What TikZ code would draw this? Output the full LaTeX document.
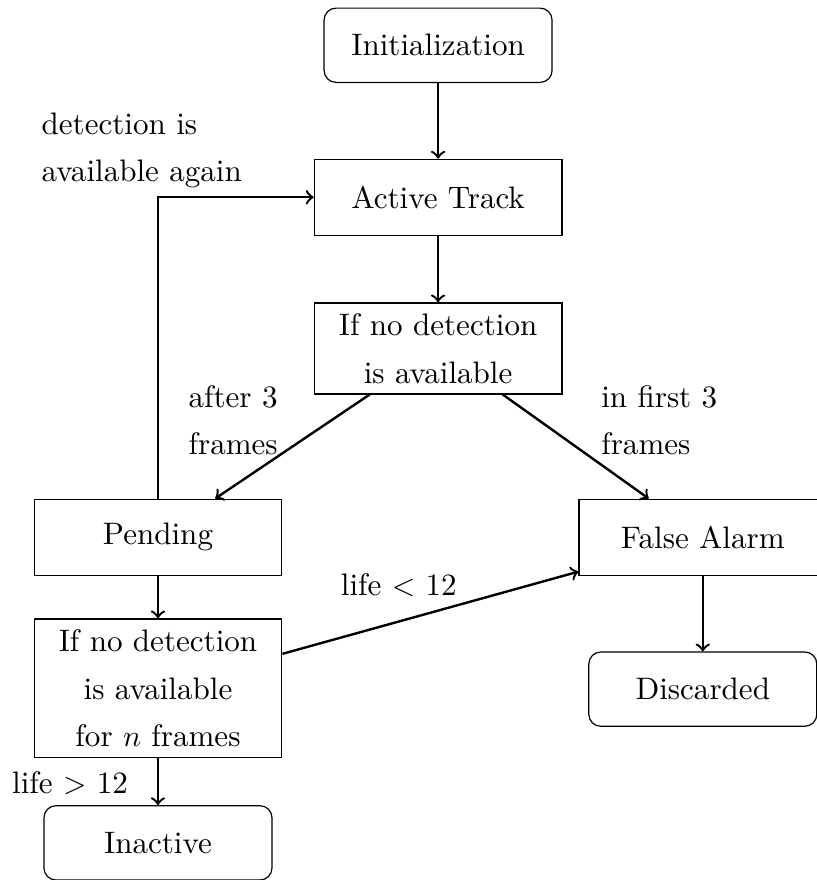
\documentclass[tikz,border=0pt]{standalone}
\usepackage{tikz}
\usetikzlibrary{arrows}

\begin{document}
\begin{tikzpicture}
  \tikzstyle{state}=[draw,rectangle,align=center,minimum width=2.9cm,minimum height=0.89cm,inner sep=3.5pt,font=\fontsize{10.35}{15.9}\selectfont]
  \tikzstyle{terminal}=[state,rounded corners,minimum width=2.67cm,minimum height=0.87cm]
  \tikzstyle{note}=[align=left,inner sep=0pt,font=\fontsize{10.35}{15.9}\selectfont]
  \tikzstyle{flow}=[->,thick]
  \useasboundingbox (0,0) rectangle (9.567,-10.305);

  \node[terminal] (init) at (5.13,-0.53) {Initialization};
  \node[state] (active) at (5.13,-2.31) {Active Track};
  \node[state] (check) at (5.13,-4.08) {If no detection\\is available};
  \node[state] (pending) at (1.85,-6.29) {Pending};
  \node[state] (false) at (8.23,-6.29) {False Alarm};
  \node[state] (checkn) at (1.85,-8.06) {If no detection\\is available\\for $n$ frames};
  \node[terminal] (discard) at (8.23,-8.07) {Discarded};
  \node[terminal] (inactive) at (1.85,-9.87) {Inactive};

  \node[note] (again) at (1.66,-1.76) {detection is\\available again};
  \node[note] (after) at (2.73,-4.92) {after 3\\frames};
  \node[note] (first) at (7.72,-4.92) {in first 3\\frames};
  \node[note] (less) at (4.67,-6.85) {life $<$ 12};
  \node[note] (more) at (0.82,-9.17) {life $>$ 12};

  \draw[flow] (init) -- (active);
  \draw[flow] (active) -- (check);
  \draw[flow] (check) -- (pending);
  \draw[flow] (check) -- (false);
  \draw[flow] (pending) -- (checkn);
  \draw[flow] (checkn) -- (false);
  \draw[flow] (false) -- (discard);
  \draw[flow] (checkn) -- (inactive);
  \draw[flow] (pending) |- (active);
\end{tikzpicture}
\end{document}
